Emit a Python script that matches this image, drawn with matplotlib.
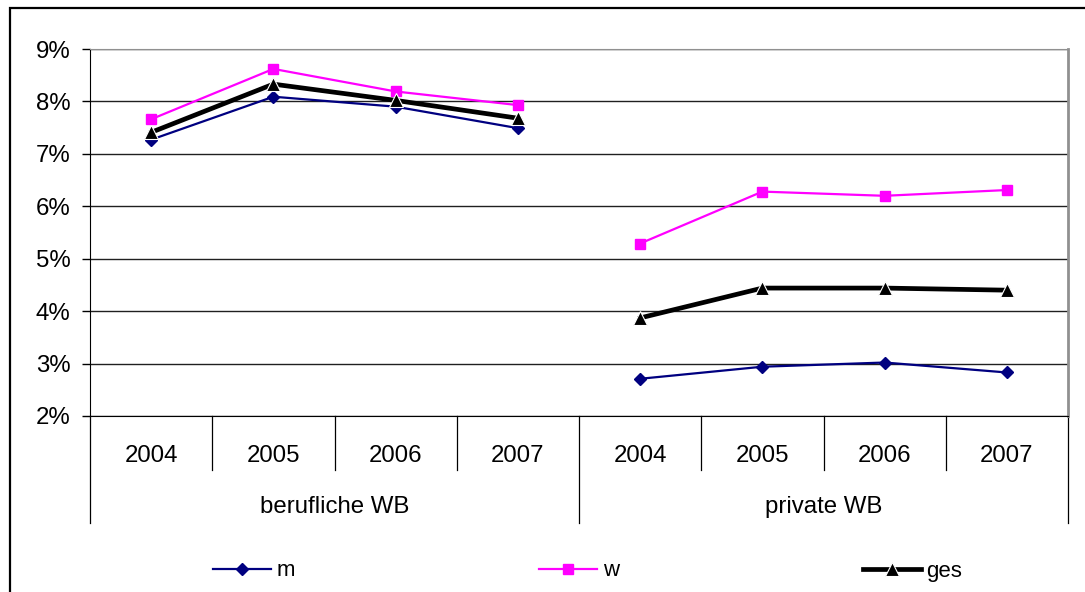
import matplotlib
matplotlib.use("Agg")
import matplotlib.pyplot as plt
from matplotlib.patches import Rectangle
from matplotlib.ticker import FuncFormatter

plt.rcParams["font.family"] = ["Liberation Sans", "DejaVu Sans"]

# data: share in percent, per type of further training and year
groups = ["berufliche WB", "private WB"]
years = ["2004", "2005", "2006", "2007"]
m_beruf = [7.27, 8.09, 7.90, 7.49]
w_beruf = [7.66, 8.62, 8.19, 7.93]
ges_beruf = [7.41, 8.33, 8.02, 7.68]
m_priv = [2.71, 2.94, 3.02, 2.83]
w_priv = [5.29, 6.28, 6.20, 6.31]
ges_priv = [3.87, 4.44, 4.44, 4.40]

_NAVY = "#000080"
_MAGENTA = "#ff00ff"
_BLACK = "#000000"
_FS = 17.3
_FS_LEG = 16

fig = plt.figure(figsize=(10.85, 5.92), dpi=100, facecolor="white")
ax = fig.add_axes([90 / 1085, 176 / 592, 978 / 1085, 367 / 592])

n_years = len(years)
styles = [
    ("m", (m_beruf, m_priv), dict(color=_NAVY, lw=1.6, marker="D", ms=6.2,
                                  mec=_NAVY)),
    ("w", (w_beruf, w_priv), dict(color=_MAGENTA, lw=1.6, marker="s", ms=7.2,
                                  mec=_MAGENTA)),
    ("ges", (ges_beruf, ges_priv), dict(color=_BLACK, lw=3.4, marker="^", ms=9.5,
                                        mec="white", mew=0.8)),
]

handles = []
for label, series, kw in styles:
    for gi, vals in enumerate(series):
        xs = [gi * n_years + i + 0.5 for i in range(n_years)]
        line, = ax.plot(xs, vals, label=label if gi == 0 else None,
                        zorder=3, clip_on=False, **kw)
        if gi == 0:
            handles.append(line)

ax.set_xlim(0, len(groups) * n_years)
ax.set_ylim(2, 9)
ax.set_yticks(range(2, 10))
ax.yaxis.set_major_formatter(FuncFormatter(lambda v, _: f"{v:.0f}%"))
ax.tick_params(axis="y", direction="out", length=6, width=1, pad=8,
               labelsize=_FS, colors=_BLACK)
ax.set_xticks([])
ax.grid(axis="y", color="#202020", linewidth=1.0, zorder=0)
ax.set_axisbelow(True)
ax.spines["left"].set_color(_BLACK)
ax.spines["bottom"].set_color(_BLACK)
ax.spines["top"].set_color("#909090")
ax.spines["right"].set_color("#909090")
ax.spines["right"].set_linewidth(2)

# two-level category axis below the plot area
xt = ax.get_xaxis_transform()
for k in range(len(groups) * n_years + 1):
    depth = -0.292 if k % n_years == 0 else -0.147
    ax.plot([k, k], [0, depth], color=_BLACK, lw=0.9, transform=xt,
            clip_on=False)
for gi, g in enumerate(groups):
    for i, y in enumerate(years):
        ax.text(gi * n_years + i + 0.5, -0.108, y, transform=xt,
                ha="center", va="center", fontsize=_FS)
    ax.text(gi * n_years + n_years / 2, -0.248, g, transform=xt,
            ha="center", va="center", fontsize=_FS)

fig.legend(handles=handles, loc="center left",
           bbox_to_anchor=(213 / 1085, 21 / 592), ncol=3, frameon=False,
           fontsize=_FS_LEG, handlelength=2.6, handletextpad=0.25,
           columnspacing=11.0, borderpad=0, borderaxespad=0)

# outer chart frame
fig.patches.append(Rectangle((10 / 1085, -0.05), 1.0, (584 / 592) + 0.05,
                             transform=fig.transFigure, fill=False,
                             edgecolor=_BLACK, linewidth=1.6))

fig.savefig("out.png", dpi=100, facecolor="white")
